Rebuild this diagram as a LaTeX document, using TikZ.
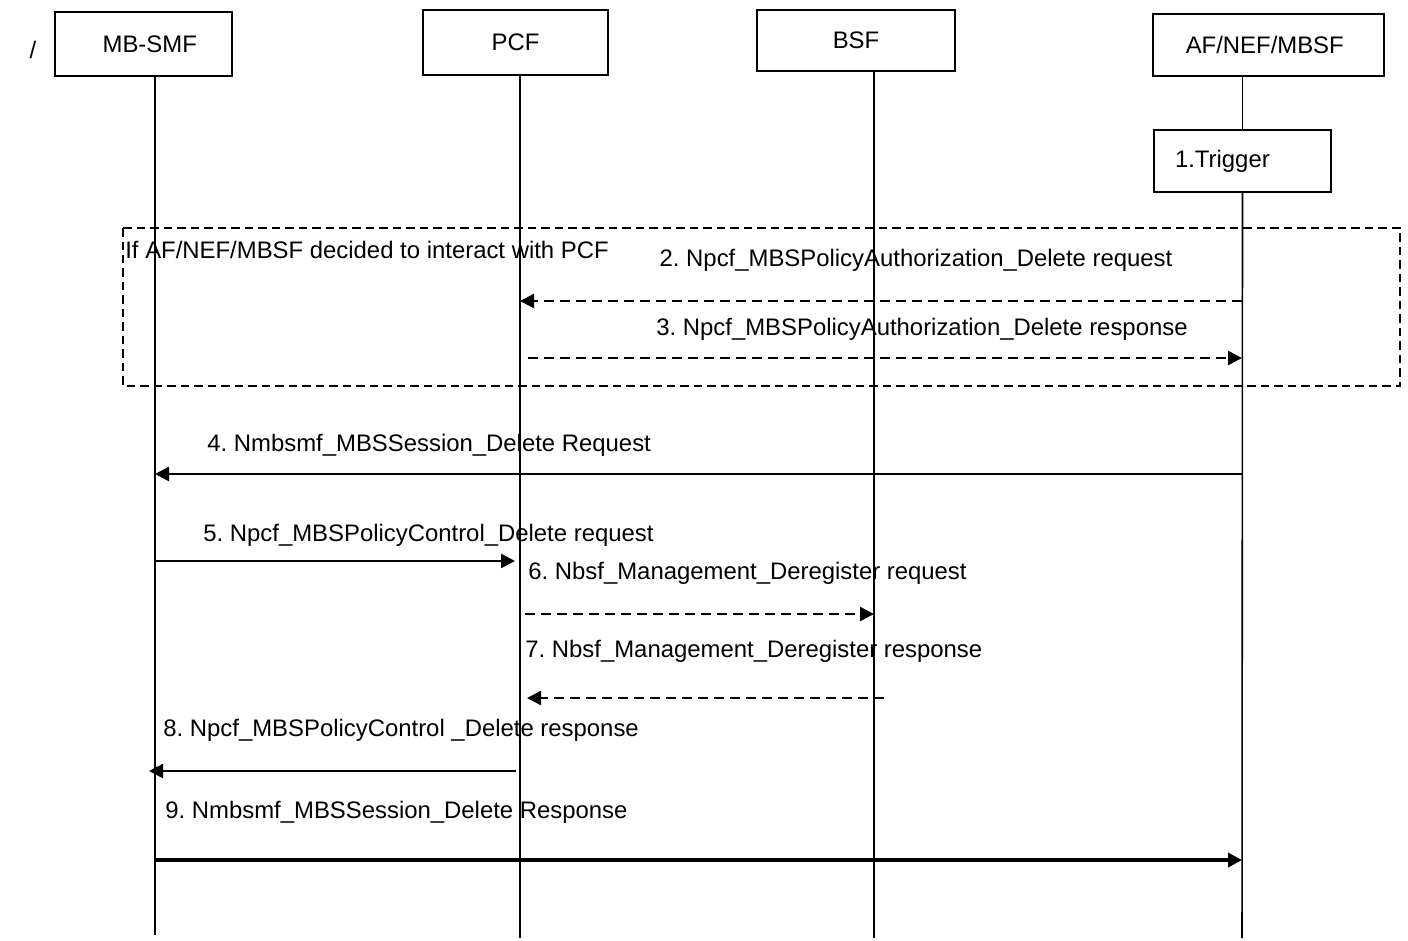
\documentclass[tikz,border=0pt]{standalone}
\usepackage{fontspec}
\setmainfont{Liberation Sans}
\usetikzlibrary{arrows.meta,positioning}
\frenchspacing

\begin{document}
\begin{tikzpicture}[x=0.02cm,y=-0.02cm,
font=\fontsize{13.6pt}{16pt}\selectfont,
nf/.style={draw, line width=0.9pt, inner sep=0pt, align=center},
life/.style={line width=0.9pt},
grp/.style={draw, line width=1.2pt, dash pattern=on 0.17cm off 0.1cm},
msg/.style={-{Triangle[length=0.28cm,width=0.28cm]}, line width=1.4pt},
dmsg/.style={msg, dash pattern=on 0.2cm off 0.12cm},
lbl/.style={inner sep=0pt, anchor=west}
]
\useasboundingbox (0,0) rectangle (1408,940);

% network functions
\node at (33,50) {/};
\node[nf, minimum width=3.54cm, minimum height=1.28cm] (smf) at (143.5,44) {\hspace{0.25cm}MB-SMF};
\node[nf, minimum width=3.7cm, minimum height=1.3cm] (pcf) at (515.5,42.5) {PCF};
\node[nf, minimum width=3.96cm, minimum height=1.22cm] (bsf) at (856,40.5) {BSF};
\node[nf, minimum width=4.62cm, minimum height=1.24cm] (af) at (1268.5,45) {\hspace{-0.15cm}AF/NEF/MBSF};
\node[nf, text width=2.7cm, inner xsep=0.42cm, minimum height=1.24cm, align=left] (trig) at (1242.5,161) {1.Trigger\\[6pt]};

% lifelines
\coordinate (smfL) at (155,935);
\coordinate (pcfL) at (520,938);
\coordinate (bsfL) at (874,938);
\coordinate (afL) at (1242,938);
\draw[life] (smfL |- smf.south) -- (smfL);
\draw[life] (pcfL |- pcf.south) -- (pcfL);
\draw[life] (bsfL |- bsf.south) -- (bsfL);
\draw[life] (af.south -| trig.north) -- (trig.north);
\draw[life] (trig.south) -- (afL);

% optional part
\draw[grp] (123,228) rectangle (1400,386);
\node[lbl] (cond) at (125,250) {If AF/NEF/MBSF decided to interact with PCF};

% message rows
\coordinate (r2) at (0,301);
\coordinate (r3) at (0,358);
\coordinate (r4) at (0,474);
\coordinate (r5) at (0,561);
\coordinate (r6) at (0,614);
\coordinate (r7) at (0,698);
\coordinate (r8) at (0,771);
\coordinate (r9) at (0,860);

\node (t2) at (916,260) {2. Npcf\_MBSPolicyAuthorization\_Delete request};
\draw[dmsg] (afL |- r2) -- (pcfL |- r2);
\node (t3) at (922,329) {3. Npcf\_MBSPolicyAuthorization\_Delete response};
\draw[dmsg] ([xshift=0.16cm]pcfL |- r3) -- (afL |- r3);
\node[lbl] (t4) at (207,445) {4. Nmbsmf\_MBSSession\_Delete Request};
\draw[msg] (afL |- r4) -- (smfL |- r4);
\node[lbl] (t5) at (203,535) {5. Npcf\_MBSPolicyControl\_Delete request};
\draw[msg] (smfL |- r5) -- ([xshift=-0.1cm]pcfL |- r5);
\node[lbl] (t6) at (528,573) {6. Nbsf\_Management\_Deregister request};
\draw[dmsg] ([xshift=0.1cm]pcfL |- r6) -- (bsfL |- r6);
\node[lbl] (t7) at (525,651) {7. Nbsf\_Management\_Deregister response};
\draw[dmsg] ([xshift=0.2cm]bsfL |- r7) -- ([xshift=0.14cm]pcfL |- r7);
\node[lbl] (t8) at (163,730) {8. Npcf\_MBSPolicyControl \_Delete response};
\draw[msg] ([xshift=-0.08cm]pcfL |- r8) -- ([xshift=-0.12cm]smfL |- r8);
\node[lbl] (t9) at (165,812) {9. Nmbsmf\_MBSSession\_Delete Response};
\draw[msg, line width=2pt] (smfL |- r9) -- (afL |- r9);
\end{tikzpicture}
\end{document}
